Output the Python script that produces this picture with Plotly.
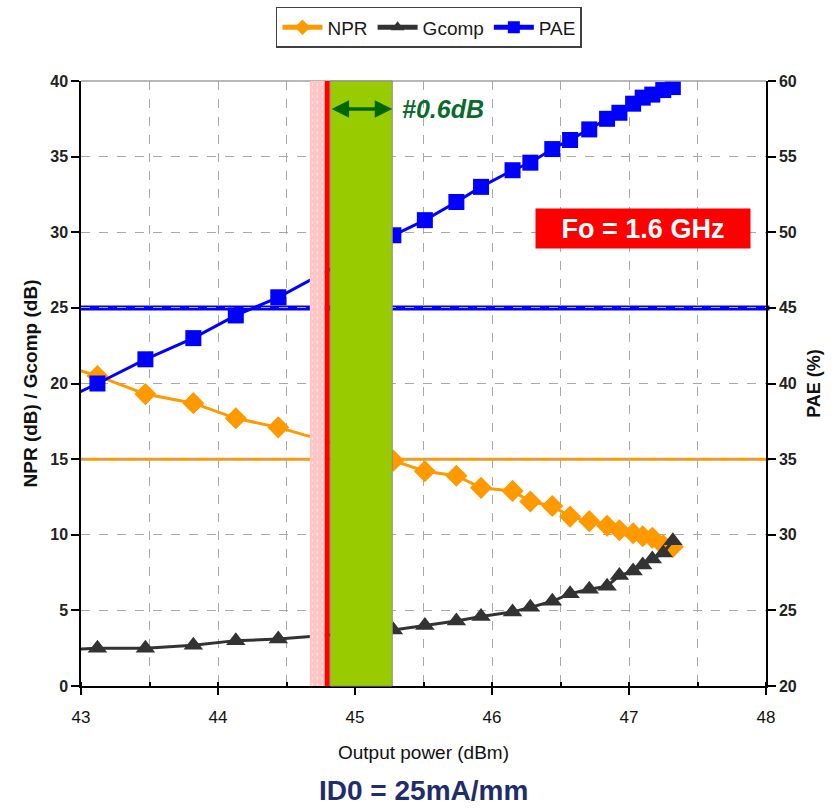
import plotly.graph_objects as go

# Output power sweep (dBm) shared by the three measured curves
pout = [42.80, 43.12, 43.47, 43.82, 44.13, 44.44,
        45.28, 45.51, 45.74, 45.92, 46.15, 46.28, 46.44, 46.57,
        46.71, 46.84, 46.93, 47.03, 47.10, 47.17, 47.25, 47.32]

# Noise power ratio (dB)
npr = [21.4, 20.5, 19.3, 18.7, 17.7, 17.1,
       14.9, 14.2, 13.9, 13.1, 12.9, 12.2, 11.9, 11.2,
       10.9, 10.6, 10.3, 10.1, 9.9, 9.8, 9.3, 9.2]

# Gain compression (dB)
gcomp = [2.35, 2.5, 2.5, 2.7, 3.0, 3.1,
         3.7, 4.0, 4.3, 4.6, 4.9, 5.2, 5.6, 6.1,
         6.4, 6.6, 7.3, 7.6, 8.0, 8.4, 8.8, 9.6]

# Power added efficiency (%)
pae = [38.6, 40.0, 41.6, 43.0, 44.5, 45.7,
       49.8, 50.8, 52.0, 53.0, 54.1, 54.6, 55.5, 56.1,
       56.8, 57.5, 57.9, 58.5, 58.9, 59.1, 59.4, 59.6]

# Target levels drawn as horizontal references
npr_target = 15      # dB, left axis
pae_target = 45      # %, right axis

# Operating window (dBm)
pink_zone = (44.67, 44.78)
ref_power = 44.797
green_zone = (44.818, 45.272)

x_ticks = [43, 44, 45, 46, 47, 48]
left_ticks = [0, 5, 10, 15, 20, 25, 30, 35, 40]
right_ticks = [20, 25, 30, 35, 40, 45, 50, 55, 60]

ORANGE = "#FF9900"
GRAY = "#333333"
BLUE = "#0000FF"
NARROW = "Liberation Sans Narrow, Arial Narrow, Liberation Sans, Arial, sans-serif"
SANS = "Liberation Sans, Arial, sans-serif"

fig = go.Figure()

fig.add_trace(go.Scatter(
    x=pout, y=npr, name="NPR", mode="lines+markers",
    line=dict(color=ORANGE, width=3),
    marker=dict(symbol="diamond", size=17, color=ORANGE),
))
fig.add_trace(go.Scatter(
    x=pout, y=gcomp, name="Gcomp", mode="lines+markers",
    line=dict(color=GRAY, width=3),
    marker=dict(symbol="triangle-up", size=17, color=GRAY),
))
fig.add_trace(go.Scatter(
    x=pout, y=pae, name="PAE", mode="lines+markers", yaxis="y2",
    line=dict(color=BLUE, width=3),
    marker=dict(symbol="square", size=16, color=BLUE),
))

shapes = [
    # reference levels
    dict(type="line", xref="paper", x0=0, x1=1.005, yref="y", y0=npr_target, y1=npr_target,
         line=dict(color=ORANGE, width=3), layer="between"),
    dict(type="line", xref="paper", x0=0, x1=1.005, yref="y", y0=pae_target - 20, y1=pae_target - 20,
         line=dict(color=BLUE, width=5), layer="between"),
    # top frame
    dict(type="line", xref="paper", x0=0, x1=1, yref="paper", y0=1, y1=1,
         line=dict(color="#A0A0A0", width=1.5), layer="above"),
    # operating window
    dict(type="rect", xref="x", x0=pink_zone[0], x1=pink_zone[1], yref="paper", y0=0, y1=1,
         fillcolor="#FFC4C4", line=dict(width=0), layer="above"),
    dict(type="rect", xref="x", x0=green_zone[0], x1=green_zone[1], yref="paper", y0=0, y1=1,
         fillcolor="#99CC00", line=dict(color="#8A8A8A", width=1), layer="above"),
    dict(type="line", xref="x", x0=ref_power, x1=ref_power, yref="paper", y0=0, y1=1,
         line=dict(color="#FF0000", width=5), layer="above"),
]
# light dotted texture on the pink strip
for k in range(3):
    xx = pink_zone[0] + (k + 0.5) * (pink_zone[1] - pink_zone[0]) / 3
    shapes.append(dict(type="line", xref="x", x0=xx, x1=xx, yref="paper", y0=0, y1=1,
                       line=dict(color="#FFE6E6", width=1, dash="dot"), layer="above"))

annotations = [
    # double-headed width arrow
    dict(x=green_zone[1], y=38.15, ax=green_zone[0], ay=38.15, xref="x", yref="y",
         axref="x", ayref="y", text="", showarrow=True, arrowhead=2, arrowside="end+start",
         arrowsize=1, arrowwidth=3.5, arrowcolor="#006600", standoff=0, startstandoff=0),
    dict(x=45.33, y=38.15, xref="x", yref="y", text="<b><i>#0.6dB</i></b>", showarrow=False,
         xanchor="left", yanchor="middle", font=dict(family=SANS, size=25, color="#0B6B2E")),
    dict(x=47.10, y=30.25, xref="x", yref="y", text="<b>Fo = 1.6 GHz</b>", showarrow=False,
         xanchor="center", yanchor="middle", bgcolor="#FF0000", borderpad=4,
         width=206, height=31, font=dict(family=SANS, size=27, color="#FFFFFF")),
    dict(x=0.5, y=-0.172, xref="paper", yref="paper", text="<b>ID0 = 25mA/mm</b>",
         showarrow=False, xanchor="center", yanchor="middle",
         font=dict(family=NARROW, size=28, color="#1F2D6B")),
]

fig.update_layout(
    width=836, height=808,
    margin=dict(l=81, r=70, t=81, b=122, autoexpand=False),
    paper_bgcolor="white", plot_bgcolor="white",
    showlegend=True,
    legend=dict(orientation="h", x=0.508, xanchor="center", y=0.966, yanchor="middle",
                yref="container",
                bordercolor="#404040", borderwidth=1.5, bgcolor="white",
                font=dict(family=SANS, size=19, color="#1a1a1a"),
                itemwidth=40, tracegroupgap=0, itemsizing="constant"),
    xaxis=dict(
        range=[43, 48], tickvals=x_ticks, ticks="outside", ticklen=7, tickwidth=1.5,
        tickcolor="black", showline=True, linecolor="black", linewidth=1.5,
        showgrid=False, zeroline=False, ticklabelstandoff=8,
        minor=dict(dtick=0.5, showgrid=True, gridcolor="#A8A8A8", griddash="dash",
                   gridwidth=1.2, ticks="inside", ticklen=4, tickcolor="black"),
        tickfont=dict(family=NARROW, size=17, color="#111111"),
        title=dict(text="Output power (dBm)", standoff=20,
                   font=dict(family=NARROW, size=19, color="#111111")),
    ),
    yaxis=dict(
        range=[0, 40], tickvals=left_ticks, ticks="outside", ticklen=8, tickwidth=1.5,
        tickcolor="black", showline=True, linecolor="black", linewidth=1.5,
        showgrid=True, gridcolor="#A8A8A8", griddash="dash", gridwidth=1.2, zeroline=False,
        tickfont=dict(family=SANS, size=16, color="#222222", weight="bold"),
        title=dict(text="<b>NPR (dB) / Gcomp (dB)</b>", standoff=8,
                   font=dict(family=SANS, size=19, color="#111111")),
    ),
    yaxis2=dict(
        range=[20, 60], tickvals=right_ticks, overlaying="y", side="right",
        ticks="outside", ticklen=8, tickwidth=1.5, tickcolor="black",
        showline=True, linecolor="black", linewidth=1.5, showgrid=False, zeroline=False,
        tickfont=dict(family=SANS, size=16, color="#222222", weight="bold"),
        title=dict(text="<b>PAE (%)</b>", standoff=12,
                   font=dict(family=SANS, size=18, color="#111111")),
    ),
    shapes=shapes,
    annotations=annotations,
)

fig.write_html("out.html")
